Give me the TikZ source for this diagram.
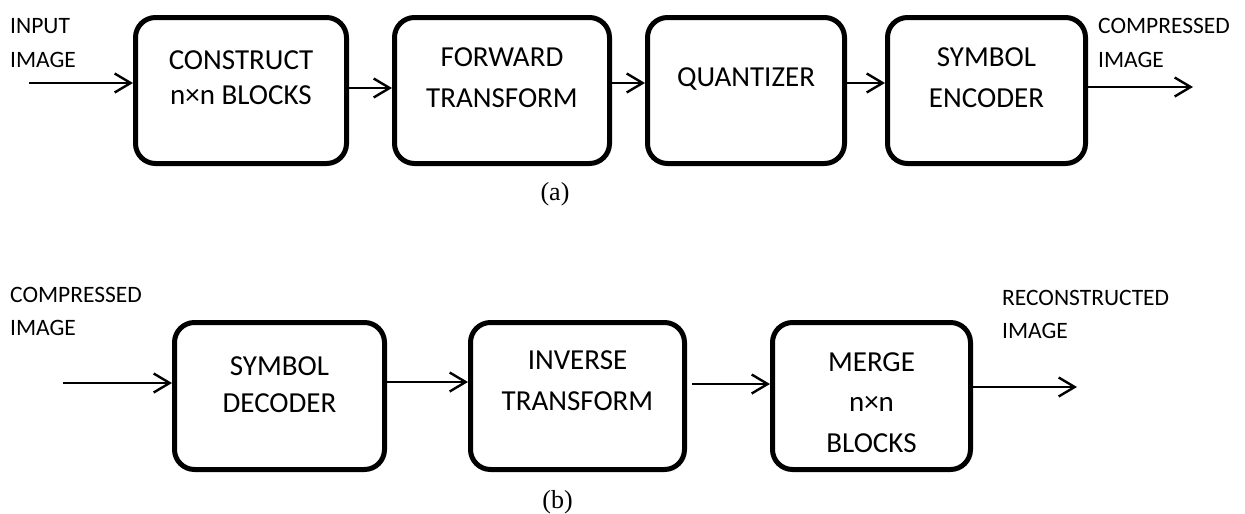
\documentclass[tikz,border=0pt]{standalone}
\usepackage{fontspec}
\setmainfont{Carlito}
\newfontfamily\capfont{Liberation Serif}
\usetikzlibrary{arrows.meta}

\tikzset{
  stage/.style={draw, line width=5pt, rounded corners=20pt, inner sep=0pt},
  stagetext/.style={anchor=north, align=center, inner sep=0pt},
  tag/.style={anchor=north west, align=left, inner sep=0pt,
    font=\fontsize{23.5}{34}\selectfont},
  flow/.style={line width=2.4pt, -{Straight Barb[length=16pt,width=19pt,line width=2.4pt]}},
  caption/.style={anchor=base, inner sep=0pt, font=\capfont\fontsize{26}{30}\selectfont}
}

\begin{document}
\begin{tikzpicture}[x=1pt, y=-1pt]
\useasboundingbox (0,0) rectangle (1245,514);

% ---------------- (a) encoder ----------------
\node[stage, minimum width=211pt, minimum height=146pt] (cons) at (241,90.5) {};
\node[stage, minimum width=215pt, minimum height=146pt] (fwd)  at (502,90.5) {};
\node[stage, minimum width=197pt, minimum height=146pt] (quan) at (746,90.5) {};
\node[stage, minimum width=198pt, minimum height=146pt] (senc) at (986.5,90.5) {};

\node[stagetext, font=\fontsize{29}{35}\selectfont] (cons-t) at (241,50) {CONSTRUCT\\n×n BLOCKS};
\node[stagetext, font=\fontsize{29}{41}\selectfont] (fwd-t)  at (502,47) {FORWARD\\TRANSFORM};
\node[stagetext, font=\fontsize{29}{41}\selectfont] (quan-t) at (746,67) {QUANTIZER};
\node[stagetext, font=\fontsize{29}{41}\selectfont] (senc-t) at (986.5,47) {SYMBOL\\ENCODER};

\node[tag] (in-a)  at (10,18)   {INPUT\\IMAGE};
\node[tag] (out-a) at (1098,18) {COMPRESSED\\IMAGE};

\coordinate (src-a) at (29,83);
\coordinate (dst-a) at (1193,87);

\draw[flow] (src-a) -- (src-a -| cons.west);
\draw[flow] ([yshift=2.5pt]cons.east) -- ([yshift=2.5pt]fwd.west);
\draw[flow] ([yshift=7.5pt]fwd.east) -- ([yshift=7.5pt]quan.west);
\draw[flow] ([yshift=7.5pt]quan.east) -- ([yshift=7.5pt]senc.west);
\draw[flow] (dst-a -| senc.east) -- (dst-a);

\node[caption] (cap-a) at (555,200.5) {(a)};

% ---------------- (b) decoder ----------------
\node[stage, minimum width=210pt, minimum height=147pt] (sdec) at (279.5,396) {};
\node[stage, minimum width=214pt, minimum height=147pt] (inv)  at (577.5,396) {};
\node[stage, minimum width=198pt, minimum height=147pt] (merg) at (871.5,396) {};

\node[stagetext, font=\fontsize{29}{37}\selectfont] (sdec-t) at (279.5,356) {SYMBOL\\DECODER};
\node[stagetext, font=\fontsize{29}{41}\selectfont] (inv-t)  at (577.5,350) {INVERSE\\TRANSFORM};
\node[stagetext, font=\fontsize{29}{40.5}\selectfont] (merg-t) at (871.5,352) {MERGE\\n×n\\BLOCKS};

\node[tag, font=\fontsize{23.5}{33}\selectfont] (in-b)  at (10,287)   {COMPRESSED\\IMAGE};
\node[tag, font=\fontsize{23.5}{33}\selectfont] (out-b) at (1002,290) {RECONSTRUCTED\\IMAGE};

\coordinate (src-b) at (63,383);
\coordinate (dst-b) at (1077,387);

\draw[flow] (src-b) -- (src-b -| sdec.west);
\draw[flow] ([yshift=14pt]sdec.east) -- ([yshift=14pt]inv.west);
\draw[flow] ([xshift=5pt,yshift=12pt]inv.east) -- ([yshift=12pt]merg.west);
\draw[flow] (dst-b -| merg.east) -- (dst-b);

\node[caption] (cap-b) at (557.5,508) {(b)};
\end{tikzpicture}
\end{document}
